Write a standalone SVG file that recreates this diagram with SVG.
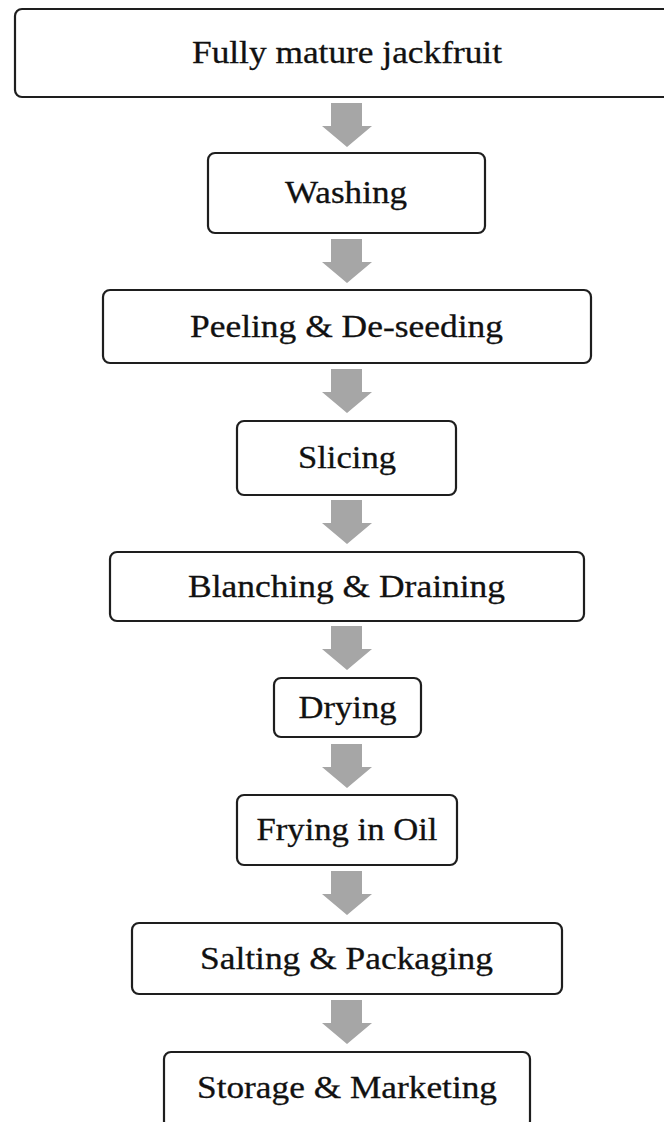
<svg xmlns="http://www.w3.org/2000/svg" width="664" height="1122" viewBox="0 0 664 1122">
<defs>
<style>
.box{fill:#fff;stroke:#1e1e1e;stroke-width:2.2}
.lbl{font-size:31px;fill:#111;stroke:#111;stroke-width:0.3;text-anchor:middle}
.arr{fill:#a6a6a6}
</style>
<path id="ar" d="M-16,0 H15 V23 H25 L0,44 L-25,23 H-16 Z"/>
</defs>
<rect width="664" height="1122" fill="#fff"/>
<g id="connectors">
<use href="#ar" class="arr" x="347" y="103"/>
<use href="#ar" class="arr" x="347" y="239"/>
<use href="#ar" class="arr" x="347" y="369"/>
<use href="#ar" class="arr" x="347" y="500"/>
<use href="#ar" class="arr" x="347" y="626"/>
<use href="#ar" class="arr" x="347" y="744"/>
<use href="#ar" class="arr" x="347" y="871"/>
<use href="#ar" class="arr" x="347" y="1000"/>
</g>
<g font-family="Liberation Serif, Times New Roman, serif">
<g id="n1"><rect class="box" x="15" y="9" width="665" height="88" rx="7"/><text class="lbl" font-family="Liberation Serif" x="347" y="63" textLength="310" lengthAdjust="spacingAndGlyphs">Fully mature jackfruit</text></g>
<g id="n2"><rect class="box" x="208" y="153" width="277" height="80" rx="7"/><text class="lbl" font-family="Liberation Serif" x="346" y="203" textLength="122" lengthAdjust="spacingAndGlyphs">Washing</text></g>
<g id="n3"><rect class="box" x="103" y="290" width="488" height="73" rx="7"/><text class="lbl" font-family="Liberation Serif" x="346.5" y="337" textLength="313" lengthAdjust="spacingAndGlyphs">Peeling &amp; De-seeding</text></g>
<g id="n4"><rect class="box" x="237" y="421" width="219" height="74" rx="7"/><text class="lbl" font-family="Liberation Serif" x="347" y="468" textLength="98" lengthAdjust="spacingAndGlyphs">Slicing</text></g>
<g id="n5"><rect class="box" x="110" y="552" width="474" height="69" rx="7"/><text class="lbl" font-family="Liberation Serif" x="346.5" y="597" textLength="317" lengthAdjust="spacingAndGlyphs">Blanching &amp; Draining</text></g>
<g id="n6"><rect class="box" x="274" y="678" width="147" height="59" rx="7"/><text class="lbl" font-family="Liberation Serif" x="347.5" y="718" textLength="98" lengthAdjust="spacingAndGlyphs">Drying</text></g>
<g id="n7"><rect class="box" x="237" y="795" width="220" height="70" rx="7"/><text class="lbl" font-family="Liberation Serif" x="347" y="840" textLength="181" lengthAdjust="spacingAndGlyphs">Frying in Oil</text></g>
<g id="n8"><rect class="box" x="132" y="923" width="430" height="71" rx="7"/><text class="lbl" font-family="Liberation Serif" x="346.5" y="968.5" textLength="293" lengthAdjust="spacingAndGlyphs">Salting &amp; Packaging</text></g>
<g id="n9"><rect class="box" x="164" y="1052" width="366" height="76" rx="7"/><text class="lbl" font-family="Liberation Serif" x="347" y="1098" textLength="300" lengthAdjust="spacingAndGlyphs">Storage &amp; Marketing</text></g>
</g>
</svg>
